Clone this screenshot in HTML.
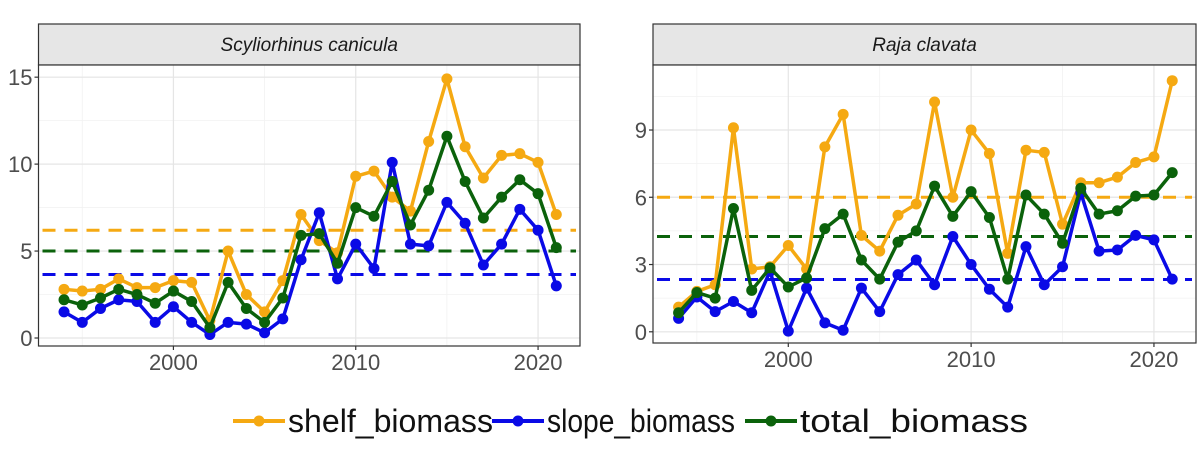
<!DOCTYPE html>
<html><head><meta charset="utf-8"><style>
html,body{margin:0;padding:0;background:#fff;}
svg{display:block;font-family:"Liberation Sans",sans-serif;}
</style></head><body>
<svg id="chart" width="1200" height="451" viewBox="0 0 1200 451" xmlns="http://www.w3.org/2000/svg"></svg>
<script>
const years = [1994,1995,1996,1997,1998,1999,2000,2001,2002,2003,2004,2005,2006,2007,2008,2009,2010,2011,2012,2013,2014,2015,2016,2017,2018,2019,2020,2021];
const scyShelf = [2.8,2.7,2.8,3.4,2.9,2.9,3.3,3.2,1.0,5.0,2.5,1.5,3.3,7.1,5.6,4.9,9.3,9.6,8.1,7.3,11.3,14.9,11.0,9.2,10.5,10.6,10.1,7.1];
const scySlope = [1.5,0.9,1.7,2.2,2.1,0.9,1.8,0.9,0.2,0.9,0.8,0.3,1.1,4.5,7.2,3.4,5.4,4.0,10.1,5.4,5.3,7.8,6.6,4.2,5.4,7.4,6.2,3.0];
const scyTotal = [2.2,1.9,2.3,2.8,2.5,2.0,2.7,2.1,0.6,3.2,1.7,0.9,2.3,5.9,6.0,4.3,7.5,7.0,9.0,6.5,8.5,11.6,9.0,6.9,8.1,9.1,8.3,5.2];
const scyMeans = [6.2,3.65,5.0];
const rajShelf = [1.1,1.8,2.1,9.1,2.8,2.9,3.85,2.8,8.25,9.7,4.3,3.6,5.2,5.7,10.25,6.0,9.0,7.95,3.5,8.1,8.0,4.8,6.65,6.65,6.9,7.55,7.8,11.2];
const rajSlope = [0.6,1.55,0.9,1.35,0.85,2.7,0.03,1.95,0.4,0.07,1.95,0.9,2.55,3.2,2.1,4.25,3.0,1.9,1.1,3.8,2.1,2.9,6.2,3.6,3.65,4.3,4.1,2.35];
const rajTotal = [0.85,1.75,1.5,5.5,1.85,2.85,2.0,2.4,4.6,5.25,3.2,2.35,4.0,4.5,6.5,5.15,6.25,5.1,2.35,6.1,5.25,3.95,6.4,5.25,5.4,6.05,6.1,7.1];
const rajMeans = [6.0,2.33,4.25];
const scyTicks = [0,5,10,15];
const rajTicks = [0,3,6,9];
const xTicks = [2000,2010,2020];
const seriesNames = ["shelf_biomass","slope_biomass","total_biomass"];

const colors = ["#F5A912","#0A0AE6","#0B620B"];
const NS = "http://www.w3.org/2000/svg";
const svg = document.getElementById('chart');
function mk(tag, attrs, parent){const e=document.createElementNS(NS,tag);for(const k in attrs)e.setAttribute(k,attrs[k]);(parent||svg).appendChild(e);return e;}

function panel(key,title,x0,x1,yTop,yBot,ymin,ymax,ticks,minorStep,data,means){
  const g = mk('g',{});
  
  
  const xs = v => x0 + (v-1992.6)/(2022.3-1992.6)*(x1-x0);
  const ys = v => yBot - (v-ymin)/(ymax-ymin)*(yBot-yTop);
  const strip = mk('rect',{x:x0,y:24,width:x1-x0,height:yTop-24,fill:'#e6e6e6',stroke:'#333','stroke-width':1.2},g);
  
  
  const st = mk('text',{x:(x0+x1)/2,y:51,'text-anchor':'middle','font-size':19,'font-style':'italic',fill:'#1a1a1a'},g);
  st.textContent = title;
  
  
  mk('rect',{x:x0,y:yTop,width:x1-x0,height:yBot-yTop,fill:'#fff'},g);
  for(let v=Math.ceil(ymin/minorStep)*minorStep; v<=ymax; v+=minorStep){
    mk('line',{x1:x0,x2:x1,y1:ys(v),y2:ys(v),stroke:'#f2f2f2','stroke-width':0.8},g);
  }
  [1995,2005,2015].forEach(v=>mk('line',{x1:xs(v),x2:xs(v),y1:yTop,y2:yBot,stroke:'#f2f2f2','stroke-width':0.8},g));
  ticks.forEach(v=>mk('line',{x1:x0,x2:x1,y1:ys(v),y2:ys(v),stroke:'#e5e5e5','stroke-width':1.2},g));
  xTicks.forEach(v=>mk('line',{x1:xs(v),x2:xs(v),y1:yTop,y2:yBot,stroke:'#e5e5e5','stroke-width':1.2},g));
  [0,2,1].forEach(i=>{
    const l = mk('line',{x1:x0+4,x2:x1-4,y1:ys(means[i]),y2:ys(means[i]),stroke:colors[i],'stroke-width':3,'stroke-dasharray':'13,9'},g);
    
    
  });
  data.forEach((arr,i)=>{
    const sg = mk('g',{},g);
    
    
    mk('polyline',{points:arr.map((v,j)=>xs(years[j])+','+ys(v)).join(' '),fill:'none',stroke:colors[i],'stroke-width':3.5,'stroke-linejoin':'round'},sg);
    arr.forEach((v,j)=>{
      const c = mk('circle',{cx:xs(years[j]),cy:ys(v),r:5.5,fill:colors[i]},sg);
      
      
    });
  });
  mk('rect',{x:x0,y:yTop,width:x1-x0,height:yBot-yTop,fill:'none',stroke:'#333','stroke-width':1.2},g);
  ticks.forEach(v=>{
    mk('line',{x1:x0-4,x2:x0,y1:ys(v),y2:ys(v),stroke:'#333','stroke-width':1.2},g);
    const t = mk('text',{x:x0-6,y:ys(v)+8,'text-anchor':'end','font-size':22,fill:'#4d4d4d'},g);
    t.textContent = v;
    
    
  });
  xTicks.forEach(v=>{
    mk('line',{x1:xs(v),x2:xs(v),y1:yBot,y2:yBot+4,stroke:'#333','stroke-width':1.2},g);
    const t = mk('text',{x:xs(v),y:yBot+24,'text-anchor':'middle','font-size':22,fill:'#4d4d4d'},g);
    t.textContent = v;
    
    
  });
}
panel('scyliorhinus','Scyliorhinus canicula',38.5,580,65,346,-0.46,15.7,scyTicks,2.5,[scyShelf,scySlope,scyTotal],scyMeans);
panel('raja','Raja clavata',653,1196,65,343,-0.5,11.9,rajTicks,1.5,[rajShelf,rajSlope,rajTotal],rajMeans);

const leg = mk('g',{});


const legX = [233,492,745];
const legW = [205,188,228];
seriesNames.forEach((n,i)=>{
  const e = mk('g',{},leg);
  
  
  mk('line',{x1:legX[i],x2:legX[i]+52,y1:421,y2:421,stroke:colors[i],'stroke-width':4},e);
  mk('circle',{cx:legX[i]+26,cy:421,r:5.5,fill:colors[i]},e);
  const t = mk('text',{x:legX[i]+55,y:432,'font-size':32,fill:'#111',textLength:legW[i],lengthAdjust:'spacingAndGlyphs'},e);
  t.textContent = n;
});
</script>
</body></html>
